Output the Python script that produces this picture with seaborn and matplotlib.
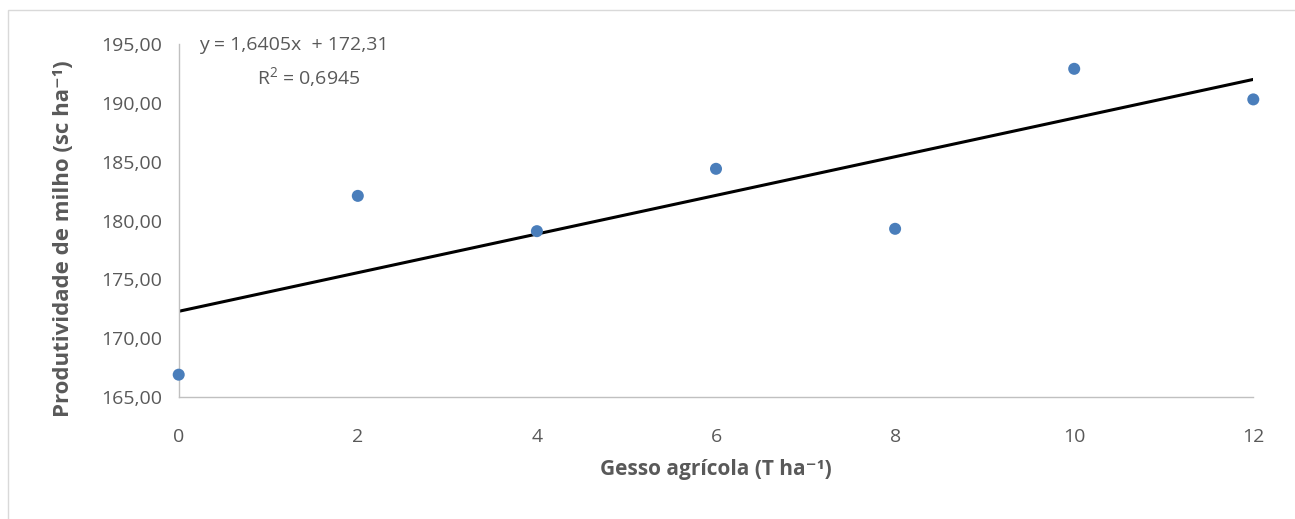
import numpy as np
import pandas as pd
import seaborn as sns
import matplotlib.pyplot as plt
from matplotlib.patches import Rectangle
from matplotlib.ticker import FuncFormatter

# dados
gesso = [0, 2, 4, 6, 8, 10, 12]
produtividade = [166.9, 182.1, 179.1, 184.4, 179.3, 192.9, 190.3]
equacao = "y = 1,6405x  + 172,31"
r2 = "R$^2$ = 0,6945"
y_ticks = [165, 170, 175, 180, 185, 190, 195]
x_ticks = [0, 2, 4, 6, 8, 10, 12]


def main():
    sns.set_theme(style="white")
    plt.rcParams['font.family'] = ['Open Sans', 'DejaVu Sans']
    plt.rcParams['mathtext.default'] = 'regular'
    grey = '#595959'

    df = pd.DataFrame({'x': gesso, 'y': produtividade})

    fig = plt.figure(figsize=(12.95, 5.19), dpi=100)
    ax = fig.add_axes([0.138, 0.235, 0.8298, 0.68])

    sns.regplot(data=df, x='x', y='y', ax=ax, ci=None, truncate=True,
                scatter_kws={'s': 75, 'color': '#4a7ebb', 'alpha': 1, 'zorder': 3,
                             'clip_on': False, 'edgecolor': 'none'},
                line_kws={'color': 'black', 'lw': 2.2, 'zorder': 2})

    ax.set_xlim(0, 12)
    ax.set_ylim(165, 195)
    ax.set_xticks(x_ticks)
    ax.set_yticks(y_ticks)
    ax.yaxis.set_major_formatter(FuncFormatter(lambda v, p: f"{v:.2f}".replace('.', ',')))
    ax.tick_params(axis='y', length=0, labelsize=14, colors=grey, pad=12)
    ax.tick_params(axis='x', length=0, labelsize=14, colors=grey, pad=22)

    for s in ['top', 'right']:
        ax.spines[s].set_visible(False)
    for s in ['left', 'bottom']:
        ax.spines[s].set_color('#c0c0c0')
        ax.spines[s].set_linewidth(1.0)

    ax.set_xlabel("Gesso agrícola (T ha⁻¹)", fontsize=15, fontweight='bold',
                  color=grey, labelpad=10)
    ax.set_ylabel("Produtividade de milho (sc ha⁻¹)", fontsize=16, fontweight='bold',
                  color=grey)
    ax.yaxis.set_label_coords(-0.097, 0.45)

    ax.text(1.28, 194.9, equacao, ha='center', va='center', fontsize=14, color=grey)
    ax.text(1.45, 192.2, r2, ha='center', va='center', fontsize=14, color=grey)

    fig.patches.append(Rectangle((0.006, -0.01), 1.0, 0.99, transform=fig.transFigure,
                                 fill=False, edgecolor='#d9d9d9', lw=1.0))

    fig.savefig('out.png', dpi=100)


if __name__ == '__main__':
    main()
